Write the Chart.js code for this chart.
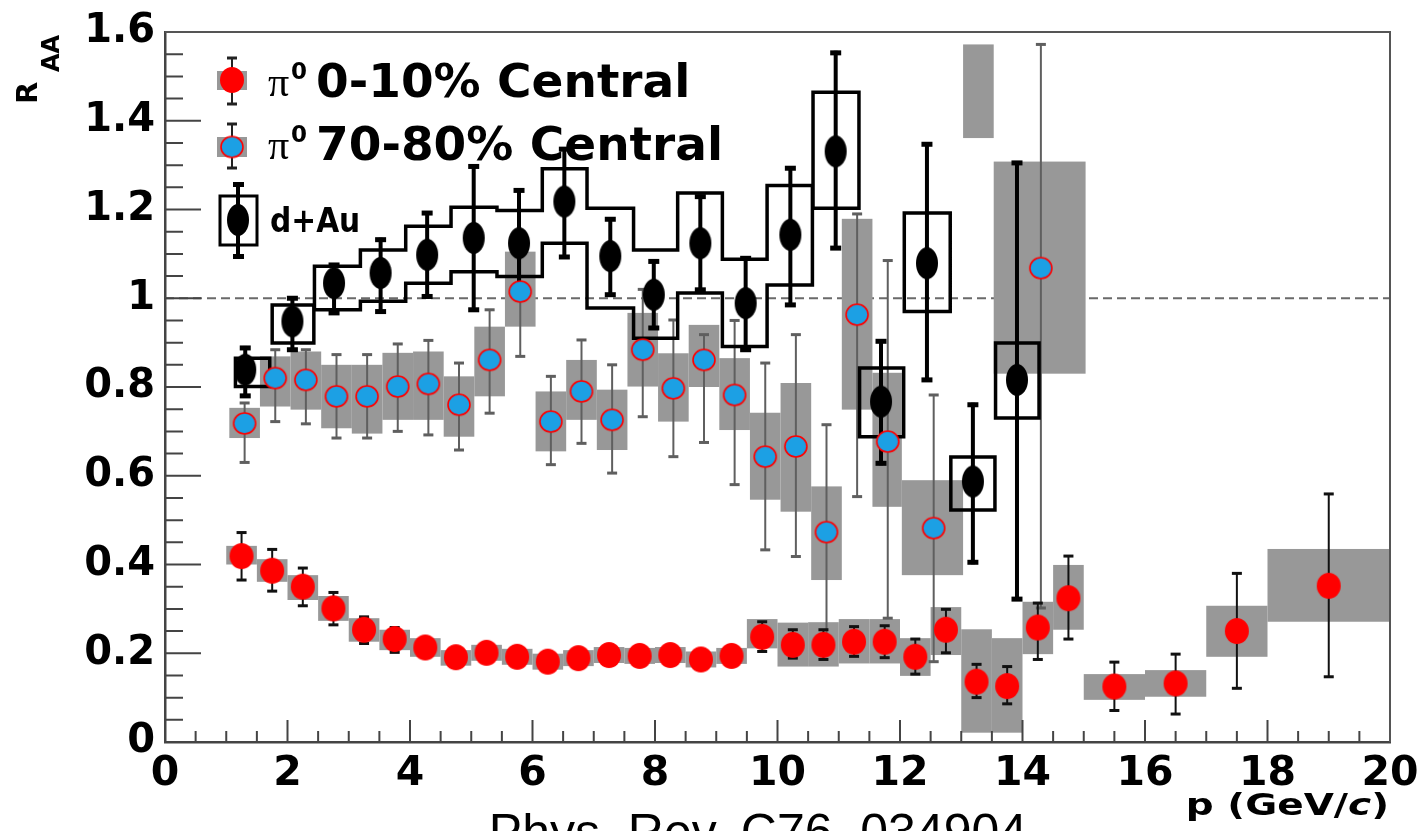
<!DOCTYPE html>
<html lang="en">
<head>
<meta charset="utf-8"/>
<title>R_AA of pi0 in Au+Au vs d+Au</title>
<script src="https://cdn.jsdelivr.net/npm/chart.js@4.4.3/dist/chart.umd.min.js"></script>
<style>
  body { margin: 0; background: #fff; }
  canvas { display: block; }
</style>
</head>
<body>
<canvas id="raaChart" width="1419" height="831"></canvas>
<script>
  // axis ticks
  const xTickValues = [0, 2, 4, 6, 8, 10, 12, 14, 16, 18, 20];
  const yTickValues = [0, 0.2, 0.4, 0.6, 0.8, 1, 1.2, 1.4, 1.6];
  const unityLevel = 1;

  // pi0 0-10% central
  const centX = [1.25, 1.75, 2.25, 2.75, 3.25, 3.75, 4.25, 4.75, 5.25, 5.75, 6.25, 6.75, 7.25, 7.75, 8.25, 8.75, 9.25, 9.75, 10.25, 10.75, 11.25, 11.75, 12.25, 12.75, 13.25, 13.75, 14.25, 14.75, 15.5, 16.5, 17.5, 19.0];
  const centY = [0.419, 0.386, 0.350, 0.301, 0.253, 0.232, 0.213, 0.191, 0.201, 0.192, 0.181, 0.189, 0.196, 0.194, 0.196, 0.186, 0.194, 0.237, 0.219, 0.219, 0.226, 0.226, 0.192, 0.253, 0.136, 0.126, 0.258, 0.324, 0.125, 0.132, 0.250, 0.352];
  const centErrLo = [0.365, 0.340, 0.307, 0.264, 0.222, 0.202, 0.201, 0.180, 0.190, 0.181, 0.170, 0.178, 0.185, 0.183, 0.185, 0.175, 0.183, 0.204, 0.189, 0.186, 0.193, 0.190, 0.153, 0.201, 0.100, 0.086, 0.186, 0.232, 0.071, 0.063, 0.121, 0.147];
  const centErrHi = [0.472, 0.434, 0.392, 0.337, 0.282, 0.258, 0.225, 0.202, 0.212, 0.203, 0.192, 0.200, 0.207, 0.205, 0.207, 0.197, 0.205, 0.271, 0.253, 0.253, 0.260, 0.262, 0.232, 0.299, 0.175, 0.170, 0.313, 0.419, 0.180, 0.198, 0.380, 0.559];
  const centSysLo = [0.400, 0.361, 0.320, 0.273, 0.226, 0.207, 0.192, 0.172, 0.183, 0.174, 0.163, 0.171, 0.178, 0.176, 0.178, 0.168, 0.176, 0.211, 0.170, 0.170, 0.177, 0.177, 0.149, 0.196, 0.021, 0.021, 0.198, 0.253, 0.095, 0.102, 0.192, 0.271];
  const centSysHi = [0.442, 0.412, 0.376, 0.329, 0.279, 0.253, 0.234, 0.207, 0.219, 0.210, 0.199, 0.207, 0.214, 0.212, 0.214, 0.204, 0.212, 0.277, 0.269, 0.270, 0.277, 0.277, 0.234, 0.304, 0.254, 0.234, 0.316, 0.399, 0.153, 0.162, 0.307, 0.435];
  const centBinLo = [1.0, 1.5, 2.0, 2.5, 3.0, 3.5, 4.0, 4.5, 5.0, 5.5, 6.0, 6.5, 7.0, 7.5, 8.0, 8.5, 9.0, 9.5, 10.0, 10.5, 11.0, 11.5, 12.0, 12.5, 13.0, 13.5, 14.0, 14.5, 15, 16, 17, 18];
  const centBinHi = [1.5, 2.0, 2.5, 3.0, 3.5, 4.0, 4.5, 5.0, 5.5, 6.0, 6.5, 7.0, 7.5, 8.0, 8.5, 9.0, 9.5, 10.0, 10.5, 11.0, 11.5, 12.0, 12.5, 13.0, 13.5, 14.0, 14.5, 15.0, 16, 17, 18, 20];

  // pi0 70-80% central (13.25 point is off scale, only its box shows)
  const periX = [1.3, 1.8, 2.3, 2.8, 3.3, 3.8, 4.3, 4.8, 5.3, 5.8, 6.3, 6.8, 7.3, 7.8, 8.3, 8.8, 9.3, 9.8, 10.3, 10.8, 11.3, 11.8, 12.55, 13.25, 14.3];
  const periY = [0.718, 0.820, 0.816, 0.779, 0.779, 0.801, 0.807, 0.760, 0.861, 1.015, 0.722, 0.790, 0.726, 0.884, 0.797, 0.861, 0.782, 0.643, 0.666, 0.473, 0.963, 0.677, 0.482, null, 1.068];
  const periErrLo = [0.630, 0.722, 0.717, 0.685, 0.685, 0.700, 0.692, 0.658, 0.741, 0.869, 0.625, 0.673, 0.606, 0.733, 0.643, 0.675, 0.580, 0.433, 0.418, 0.230, 0.553, 0.279, 0.181, null, 0.302];
  const periErrHi = [0.764, 0.884, 0.884, 0.873, 0.873, 0.897, 0.905, 0.854, 0.974, 1.150, 0.824, 0.906, 0.850, 1.020, 0.951, 0.918, 0.950, 0.854, 0.918, 0.715, 1.190, 1.085, 0.782, null, 1.572];
  const periSysLo = [0.685, 0.756, 0.749, 0.707, 0.695, 0.726, 0.726, 0.688, 0.779, 0.936, 0.655, 0.726, 0.658, 0.801, 0.722, 0.800, 0.703, 0.546, 0.519, 0.365, 0.749, 0.530, 0.376, 1.361, 0.830];
  const periSysHi = [0.753, 0.869, 0.880, 0.850, 0.850, 0.877, 0.880, 0.824, 0.936, 1.105, 0.790, 0.861, 0.794, 0.967, 0.876, 0.940, 0.865, 0.742, 0.809, 0.576, 1.179, 0.832, 0.590, 1.572, 1.308];
  const periBinLo = [1.05, 1.55, 2.05, 2.55, 3.05, 3.55, 4.05, 4.55, 5.05, 5.55, 6.05, 6.55, 7.05, 7.55, 8.05, 8.55, 9.05, 9.55, 10.05, 10.55, 11.05, 11.55, 12.03, 13.03, 13.53];
  const periBinHi = [1.55, 2.05, 2.55, 3.05, 3.55, 4.05, 4.55, 5.05, 5.55, 6.05, 6.55, 7.05, 7.55, 8.05, 8.55, 9.05, 9.55, 10.05, 10.55, 11.05, 11.55, 12.03, 13.03, 13.53, 15.03];

  // d+Au
  const dauX = [1.31, 2.08, 2.76, 3.52, 4.28, 5.04, 5.78, 6.52, 7.27, 7.98, 8.74, 9.48, 10.21, 10.95, 11.69, 12.44, 13.19, 13.91];
  const dauY = [0.839, 0.948, 1.034, 1.057, 1.098, 1.136, 1.124, 1.218, 1.095, 1.008, 1.124, 0.989, 1.143, 1.331, 0.767, 1.079, 0.587, 0.816];
  const dauErrLo = [0.780, 0.884, 0.967, 0.970, 1.004, 0.974, 1.004, 1.093, 1.008, 0.933, 1.019, 0.884, 0.985, 1.113, 0.628, 0.816, 0.405, 0.322];
  const dauErrHi = [0.888, 1.000, 1.075, 1.132, 1.192, 1.297, 1.243, 1.336, 1.178, 1.083, 1.229, 1.090, 1.293, 1.553, 0.903, 1.347, 0.760, 1.305];
  const dauSysLo = [0.801, 0.899, 0.974, 0.993, 1.034, 1.060, 1.049, 1.124, 0.978, 0.910, 1.012, 0.891, 1.030, 1.203, 0.688, 0.970, 0.523, 0.730];
  const dauSysHi = [0.865, 0.985, 1.072, 1.109, 1.162, 1.205, 1.198, 1.292, 1.203, 1.109, 1.237, 1.088, 1.254, 1.464, 0.843, 1.192, 0.642, 0.899];
  const dauBinLo = [1.15, 1.75, 2.44, 3.19, 3.93, 4.67, 5.42, 6.16, 6.89, 7.65, 8.37, 9.10, 9.83, 10.58, 11.34, 12.07, 12.83, 13.56];
  const dauBinHi = [1.71, 2.43, 3.19, 3.93, 4.67, 5.42, 6.16, 6.89, 7.65, 8.37, 9.10, 9.83, 10.57, 11.33, 12.06, 12.82, 13.55, 14.27];

  const SYS_GRAY = 'rgb(152,152,152)';
  const RED = 'rgb(255,0,0)';
  const BLUE = 'rgb(28,160,228)';

  function ellipseMarker(rx, ry, fill, stroke, lw) {
    const c = document.createElement('canvas');
    c.width = Math.ceil(2 * rx + 4);
    c.height = Math.ceil(2 * ry + 4);
    const g = c.getContext('2d');
    g.beginPath();
    g.ellipse(c.width / 2, c.height / 2, rx, ry, 0, 0, 2 * Math.PI);
    g.fillStyle = fill;
    g.fill();
    if (stroke) { g.lineWidth = lw; g.strokeStyle = stroke; g.stroke(); }
    return c;
  }
  const redMarker = ellipseMarker(12, 13, RED);
  const blueMarker = ellipseMarker(11, 10.5, BLUE, RED, 1.6);
  const blackMarker = ellipseMarker(11, 16, '#000');

  function toPoints(xs, ys) { return xs.map((v, i) => ({ x: v, y: ys[i] })); }

  function fillBoxes(ctx, sx, sy, binLo, binHi, lo, hi) {
    ctx.fillStyle = SYS_GRAY;
    for (let i = 0; i < lo.length; i++) {
      if (lo[i] == null) continue;
      const x0 = sx.getPixelForValue(binLo[i]), x1 = sx.getPixelForValue(binHi[i]);
      const y0 = sy.getPixelForValue(hi[i]), y1 = sy.getPixelForValue(lo[i]);
      ctx.fillRect(x0, y0, x1 - x0, y1 - y0);
    }
  }

  function errorBars(ctx, sx, sy, xs, lo, hi, color, lw, capW, capH) {
    ctx.strokeStyle = color;
    ctx.fillStyle = color;
    ctx.lineWidth = lw;
    for (let i = 0; i < xs.length; i++) {
      if (lo[i] == null) continue;
      const px = sx.getPixelForValue(xs[i]);
      const yt = sy.getPixelForValue(hi[i]), yb = sy.getPixelForValue(lo[i]);
      ctx.beginPath();
      ctx.moveTo(px, yt); ctx.lineTo(px, yb);
      ctx.stroke();
      ctx.fillRect(px - capW / 2, yt - capH / 2, capW, capH);
      ctx.fillRect(px - capW / 2, yb - capH / 2, capW, capH);
    }
  }

  // open boxes, joined as a step band where bins touch
  function outlineBoxes(ctx, sx, sy, binLo, binHi, lo, hi) {
    ctx.strokeStyle = '#000';
    ctx.lineWidth = 3.5;
    ctx.lineCap = 'square';
    ctx.beginPath();
    const n = lo.length;
    for (let i = 0; i < n; i++) {
      const x0 = sx.getPixelForValue(binLo[i]), x1 = sx.getPixelForValue(binHi[i]);
      const yt = sy.getPixelForValue(hi[i]), yb = sy.getPixelForValue(lo[i]);
      ctx.moveTo(x0, yt); ctx.lineTo(x1, yt);
      ctx.moveTo(x0, yb); ctx.lineTo(x1, yb);
      const joinPrev = i > 0 && Math.abs(binHi[i - 1] - binLo[i]) < 1e-6;
      if (joinPrev) {
        ctx.moveTo(x0, sy.getPixelForValue(hi[i - 1])); ctx.lineTo(x0, yt);
        ctx.moveTo(x0, sy.getPixelForValue(lo[i - 1])); ctx.lineTo(x0, yb);
      } else {
        ctx.moveTo(x0, yt); ctx.lineTo(x0, yb);
      }
      const joinNext = i < n - 1 && Math.abs(binLo[i + 1] - binHi[i]) < 1e-6;
      if (!joinNext) { ctx.moveTo(x1, yt); ctx.lineTo(x1, yb); }
    }
    ctx.stroke();
  }

  // keep Chart.js from reserving extra room for overflowing tick labels
  function noScalePadding(s) {
    s.paddingLeft = 0; s.paddingRight = 0; s.paddingTop = 0; s.paddingBottom = 0;
  }

  const decor = {
    id: 'decor',
    beforeDatasetsDraw(chart) {
      const { ctx, chartArea: a, scales: { x, y } } = chart;
      ctx.save();
      ctx.beginPath();
      ctx.rect(a.left, a.top, a.right - a.left, a.bottom - a.top);
      ctx.clip();

      // dashed line at R_AA = 1
      ctx.strokeStyle = '#6a6a6a';
      ctx.lineWidth = 2;
      ctx.setLineDash([9, 5]);
      ctx.beginPath();
      ctx.moveTo(a.left, y.getPixelForValue(unityLevel));
      ctx.lineTo(a.right, y.getPixelForValue(unityLevel));
      ctx.stroke();
      ctx.setLineDash([]);

      fillBoxes(ctx, x, y, periBinLo, periBinHi, periSysLo, periSysHi);
      fillBoxes(ctx, x, y, centBinLo, centBinHi, centSysLo, centSysHi);
      errorBars(ctx, x, y, periX, periErrLo, periErrHi, 'rgb(95,95,95)', 2, 10, 3);
      errorBars(ctx, x, y, centX, centErrLo, centErrHi, '#111', 2, 10, 3);
      outlineBoxes(ctx, x, y, dauBinLo, dauBinHi, dauSysLo, dauSysHi);
      errorBars(ctx, x, y, dauX, dauErrLo, dauErrHi, '#000', 4, 11, 5);
      ctx.restore();
    },
    afterDraw(chart) {
      const { ctx, chartArea: a, scales: { x, y } } = chart;
      ctx.save();

      // inward ticks
      ctx.strokeStyle = '#444';
      ctx.lineWidth = 2;
      ctx.beginPath();
      for (let v = 0; v <= 20.001; v += 0.5) {
        const px = x.getPixelForValue(v);
        const major = xTickValues.some(t => Math.abs(t - v) < 1e-6);
        ctx.moveTo(px, a.bottom); ctx.lineTo(px, a.bottom - (major ? 22 : 11));
      }
      for (let v = 0; v <= 1.6001; v += 0.05) {
        const py = y.getPixelForValue(v);
        const major = yTickValues.some(t => Math.abs(t - v) < 1e-6);
        ctx.moveTo(a.left, py); ctx.lineTo(a.left + (major ? 36 : 18), py);
      }
      ctx.stroke();

      // top and right frame
      ctx.strokeStyle = '#555';
      ctx.lineWidth = 2;
      ctx.beginPath();
      ctx.moveTo(a.left, a.top); ctx.lineTo(a.right, a.top); ctx.lineTo(a.right, a.bottom);
      ctx.stroke();

      // legend
      const lx = 232;
      ctx.fillStyle = SYS_GRAY;
      ctx.fillRect(lx - 15, 71, 30, 19);
      ctx.fillRect(lx - 15, 137, 30, 20);
      ctx.strokeStyle = '#222'; ctx.fillStyle = '#222'; ctx.lineWidth = 2;
      [[58, 104], [124, 168]].forEach(([t, b]) => {
        ctx.beginPath(); ctx.moveTo(lx, t); ctx.lineTo(lx, b); ctx.stroke();
        ctx.fillRect(lx - 5, t - 1.5, 10, 3); ctx.fillRect(lx - 5, b - 1.5, 10, 3);
      });
      ctx.drawImage(redMarker, lx - redMarker.width / 2, 80 - redMarker.height / 2);
      ctx.drawImage(blueMarker, lx - blueMarker.width / 2, 147 - blueMarker.height / 2);
      ctx.strokeStyle = '#000'; ctx.lineWidth = 3;
      ctx.strokeRect(220, 196, 37, 49);
      ctx.lineWidth = 4;
      ctx.beginPath(); ctx.moveTo(238, 184); ctx.lineTo(238, 256); ctx.stroke();
      ctx.fillStyle = '#000';
      ctx.fillRect(233, 182, 11, 5); ctx.fillRect(233, 254, 11, 5);
      ctx.drawImage(blackMarker, 238 - blackMarker.width / 2, 220 - blackMarker.height / 2);

      ctx.fillStyle = '#000';
      ctx.textBaseline = 'alphabetic';
      ctx.textAlign = 'left';
      [[97, '0-10% Central'], [160, '70-80% Central']].forEach(([base, txt]) => {
        ctx.font = '42px "Liberation Serif", serif';
        ctx.fillText('\u03c0', 268, base - 1);
        ctx.font = 'bold 23px "DejaVu Sans", sans-serif';
        ctx.fillText('0', 291, base - 18);
        ctx.font = 'bold 47px "DejaVu Sans", sans-serif';
        ctx.fillText(txt, 316, base);
      });
      ctx.font = 'bold 33px "DejaVu Sans Condensed", "Liberation Sans Narrow", sans-serif';
      ctx.fillText('d+Au', 270, 232);

      // y title R_AA
      ctx.save();
      ctx.translate(37, 104);
      ctx.rotate(-Math.PI / 2);
      ctx.font = 'bold 29px "DejaVu Sans", sans-serif';
      ctx.fillText('R', 0, 0);
      ctx.font = 'bold 24px "DejaVu Sans", sans-serif';
      ctx.fillText('AA', 32, 22);
      ctx.restore();

      // x title p (GeV/c)
      const parts = [
        ['bold 30px "DejaVu Sans", sans-serif', 'p (GeV/'],
        ['bold italic 30px "DejaVu Sans", sans-serif', 'c'],
        ['bold 30px "DejaVu Sans", sans-serif', ')']
      ];
      let total = 0;
      parts.forEach(([f, t]) => { ctx.font = f; total += ctx.measureText(t).width; });
      ctx.save();
      ctx.translate(1389, 815);
      ctx.scale(1.3, 1);
      let cx = -total;
      parts.forEach(([f, t]) => { ctx.font = f; ctx.fillText(t, cx, 0); cx += ctx.measureText(t).width; });
      ctx.restore();

      // reference line at the bottom
      ctx.font = '50px "Liberation Sans", Arial, sans-serif';
      ctx.textAlign = 'center';
      ctx.fillText('Phys. Rev. C76, 034904', 758, 849);
      ctx.restore();
    }
  };

  const raaChart = new Chart(document.getElementById('raaChart'), {
    type: 'scatter',
    data: {
      datasets: [
        {
          label: 'd+Au',
          data: toPoints(dauX, dauY),
          pointStyle: blackMarker,
          pointRadius: 12,
        },
        {
          label: '\u03c0\u2070 0-10% Central',
          data: toPoints(centX, centY),
          pointStyle: redMarker,
          pointRadius: 12,
        },
        {
          label: '\u03c0\u2070 70-80% Central',
          data: toPoints(periX, periY),
          pointStyle: blueMarker,
          pointRadius: 12,
        },
      ],
    },
    options: {
      responsive: false,
      animation: false,
      layout: { padding: { top: 32, right: 29, left: 0, bottom: 0 } },
      plugins: {
        legend: { display: false },
        tooltip: { enabled: false },
      },
      scales: {
        x: {
          type: 'linear', min: 0, max: 20,
          afterBuildTicks: (s) => { s.ticks = xTickValues.map(v => ({ value: v })); },
          afterFit: (s) => { s.height = 89; noScalePadding(s); },
          grid: { display: false, drawTicks: false },
          border: { display: true, color: '#444', width: 2.5 },
          ticks: { padding: 8, color: '#000', maxRotation: 0, autoSkip: false,
                   font: { family: 'DejaVu Sans', weight: 'bold', size: 41 } },
        },
        y: {
          type: 'linear', min: 0, max: 1.6,
          afterBuildTicks: (s) => { s.ticks = yTickValues.map(v => ({ value: v })); },
          afterFit: (s) => { s.width = 165; noScalePadding(s); },
          grid: { display: false, drawTicks: false },
          border: { display: true, color: '#444', width: 2.5 },
          ticks: { padding: 10, color: '#000', callback: (v) => String(v),
                   font: { family: 'DejaVu Sans', weight: 'bold', size: 40 } },
        },
      },
    },
    plugins: [decor],
  });
</script>
</body>
</html>
